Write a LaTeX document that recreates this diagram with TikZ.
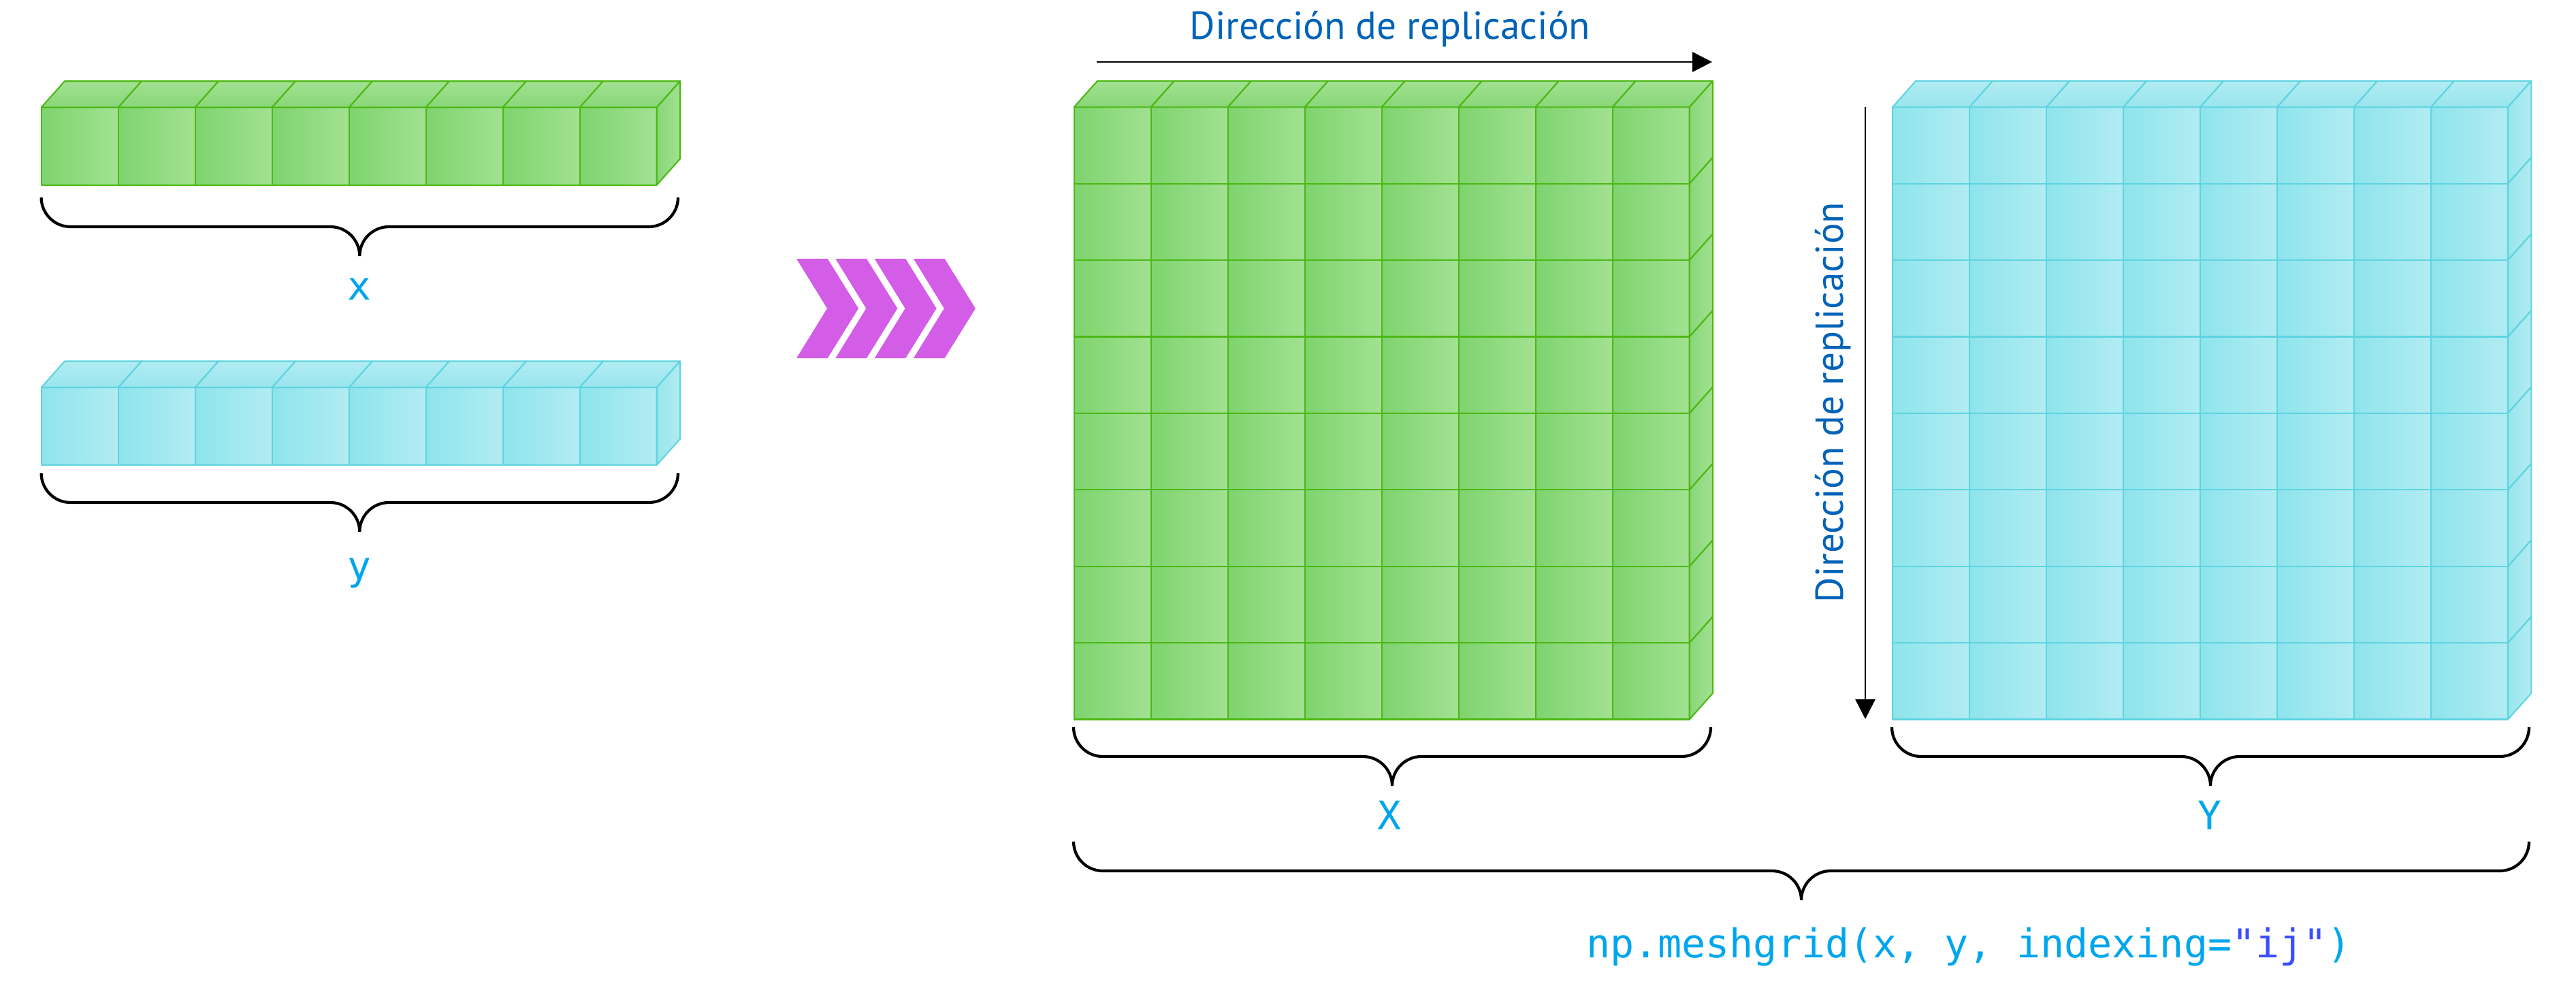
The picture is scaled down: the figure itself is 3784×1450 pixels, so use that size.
\documentclass[tikz,border=0pt]{standalone}
\usepackage{fontspec}
\setmainfont{PT Sans}
\setmonofont{DejaVu Sans Mono}
\usepackage{xcolor}
\usepackage{tikz}
\usetikzlibrary{positioning,arrows.meta,calc}

\definecolor{gLeft}{RGB}{126,212,110}
\definecolor{gMid}{RGB}{136,214,120}
\definecolor{gRight}{RGB}{162,225,146}
\definecolor{gEdge}{RGB}{76,184,20}
\definecolor{cLeft}{RGB}{142,228,236}
\definecolor{cMid}{RGB}{152,229,237}
\definecolor{cRight}{RGB}{178,236,242}
\definecolor{cEdge}{RGB}{94,212,224}
\definecolor{dirBlue}{RGB}{0,99,184}
\definecolor{labCyan}{RGB}{0,166,237}
\definecolor{ijBlue}{RGB}{58,78,255}
\definecolor{chevMag}{RGB}{211,93,230}

% block of cubes: x0, y0, rows, row height, colour set (g or c)
\newcommand{\blockgrid}[5]{%
  \foreach \r in {1,...,#3}
    \foreach \c in {0,...,7}
      \draw[#5front] ({#1+113*\c},{#2+#4*(\r-1)}) rectangle ++(113,#4);
  \foreach \c in {0,...,7}
    \draw[#5top] ({#1+113*\c},#2) -- ++(34.3,-38.5) -- ++(113,0) -- ++(-34.3,38.5) -- cycle;
  \foreach \r in {1,...,#3}
    \draw[#5side] ({#1+904},{#2+#4*(\r-1)}) -- ++(34.3,-38.5) -- ++(0,#4) -- ++(-34.3,38.5) -- cycle;
}

% curly brace hanging below two coordinates (left, right)
\newcommand{\curly}[2]{%
  \draw[brc] (#1) arc[start angle=180, end angle=270, radius=4.3mm]
    -- ($(#1)!0.5!(#2) + (-4.3mm,-4.3mm)$)
    arc[start angle=90, end angle=0, radius=4.3mm]
    arc[start angle=180, end angle=90, radius=4.3mm]
    -- ($(#2) + (-4.3mm,-4.3mm)$)
    arc[start angle=270, end angle=360, radius=4.3mm];
}

\begin{document}
\begin{tikzpicture}[
  x=0.1mm, y=-0.1mm,
  face/.style={line width=0.6pt, line join=round},
  gfront/.style={face, draw=gEdge, left color=gLeft, right color=gRight},
  gtop/.style={face, draw=gEdge, top color=gRight, bottom color=gMid},
  gside/.style={face, draw=gEdge, left color=gMid, right color=gRight},
  cfront/.style={face, draw=cEdge, left color=cLeft, right color=cRight},
  ctop/.style={face, draw=cEdge, top color=cRight, bottom color=cMid},
  cside/.style={face, draw=cEdge, left color=cMid, right color=cRight},
  brc/.style={line width=1.2pt},
  lbl/.style={text=labCyan, font=\ttfamily\fontsize{16.5}{18}\selectfont,
              anchor=base, inner sep=0pt},
  dir/.style={text=dirBlue, font=\fontsize{16.3}{18}\selectfont,
              anchor=base, inner sep=0pt},
  arr/.style={line width=0.8pt, -{Triangle[length=2.9mm, width=2.9mm]}},
  chev/.style={fill=chevMag}
]
  \useasboundingbox (0,0) rectangle (3784,1450);

  % input vectors
  \blockgrid{60.7}{157.7}{1}{114}{g}
  \blockgrid{60.7}{569}{1}{114}{c}

  % chevrons
  \foreach \i in {0,...,3}
    \fill[chev] ({1170+57.3*\i},380) -- ++(45.7,0) -- ++(45.3,73) -- ++(-45.3,73)
      -- ++(-45.7,0) -- ++(45,-73) -- cycle;

  % output matrices
  \blockgrid{1577.7}{157.3}{8}{112.4}{g}
  \blockgrid{2780}{157.3}{8}{112.4}{c}

  % replication directions
  \node[dir] (hdir) at (2042,57) {Dirección de replicación};
  \coordinate (hA) at (1611,91);
  \coordinate (hB) at (2515,91);
  \draw[arr] (hA) -- (hB);
  \node[dir, rotate=90] (vdir) at (2707,591) {Dirección de replicación};
  \coordinate (vA) at (2740,157);
  \coordinate (vB) at (2740,1056);
  \draw[arr] (vA) -- (vB);

  % braces
  \coordinate (xbL) at (60.6,290);   \coordinate (xbR) at (996,290);
  \coordinate (ybL) at (60.6,695);   \coordinate (ybR) at (996,695);
  \coordinate (XbL) at (1577,1068);  \coordinate (XbR) at (2513,1068);
  \coordinate (YbL) at (2779,1068);  \coordinate (YbR) at (3715,1068);
  \coordinate (mbL) at (1577,1236);  \coordinate (mbR) at (3715,1236);
  \curly{xbL}{xbR}
  \curly{ybL}{ybR}
  \curly{XbL}{XbR}
  \curly{YbL}{YbR}
  \curly{mbL}{mbR}

  % labels
  \node[lbl] (xlab) at (528,440) {x};
  \node[lbl] (ylab) at (528,851) {y};
  \node[lbl] (Xlab) at (2041,1218) {X};
  \node[lbl] (Ylab) at (3246,1218) {Y};
  \node[lbl, font=\ttfamily\fontsize{16.6}{18}\selectfont] (call) at (2892,1406)
    {np.meshgrid(x, y, indexing=\textcolor{ijBlue}{"ij"})};
\end{tikzpicture}
\end{document}
